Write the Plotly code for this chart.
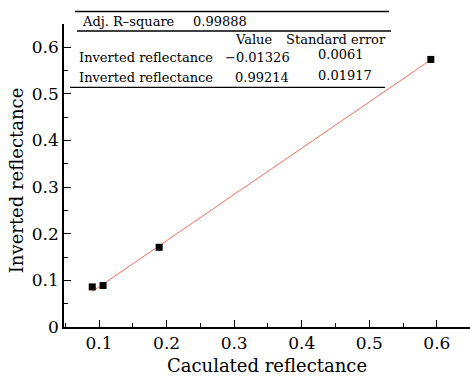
import plotly.graph_objects as go

calc = [0.090, 0.106, 0.189, 0.591]
inverted = [0.086, 0.089, 0.171, 0.574]
intercept = -0.01326
slope = 0.99214
fit_x = [min(calc), max(calc)]
fit_y = [intercept + slope * v for v in fit_x]

xticks = [0.1, 0.2, 0.3, 0.4, 0.5, 0.6]
yticks = [0, 0.1, 0.2, 0.3, 0.4, 0.5, 0.6]

FONT = "DejaVu Serif"
W, H = 470, 380
L, R, T, B = 64, 0, 23.5, 53
pw, ph = W - L - R, H - T - B

def px(x):
    return (x - L) / pw

def py(y):
    return (H - B - y) / ph

fig = go.Figure()
fig.add_trace(go.Scatter(x=fit_x, y=fit_y, mode="lines",
                         line=dict(color="#f07060", width=1), showlegend=False))
fig.add_trace(go.Scatter(x=calc, y=inverted, mode="markers",
                         marker=dict(symbol="square", size=7, color="black"),
                         showlegend=False))

shapes = []
for (x0, x1, yy) in [(75, 389, 11), (77, 391, 30.5), (70, 385, 87)]:
    shapes.append(dict(type="line", xref="paper", yref="paper",
                       x0=px(x0), x1=px(x1), y0=py(yy), y1=py(yy),
                       line=dict(color="black", width=1.3)))

ann = []
def txt(s, x, y, anchor="left", size=13, angle=0):
    ann.append(dict(text=s, x=px(x), y=py(y), xref="paper", yref="paper",
                    xanchor=anchor, yanchor="middle", showarrow=False,
                    textangle=angle,
                    font=dict(family=FONT, size=size, color="black")))

txt("Adj. R\u2013square", 80, 21)
txt("0.99888", 191, 21)
txt("Value", 233, 39)
txt("Standard error", 284, 39)
txt("Inverted reflectance", 77, 57)
txt("\u22120.01326", 223, 57)
txt("0.0061", 316, 54)
txt("Inverted reflectance", 77, 77)
txt("0.99214", 233, 77)
txt("0.01917", 316, 75)
txt("Inverted reflectance", 16, 180, anchor="center", size=18, angle=-90)

fig.update_layout(
    width=W, height=H, margin=dict(l=L, r=R, t=T, b=B),
    paper_bgcolor="white", plot_bgcolor="white",
    font=dict(family=FONT, color="black"),
    shapes=shapes, annotations=ann,
    xaxis=dict(range=[0.0482, 0.649], tickvals=xticks,
               ticktext=[str(v) for v in xticks],
               ticks="inside", ticklen=7, tickwidth=1.3, tickcolor="black",
               minor=dict(dtick=0.05, ticks="inside", ticklen=4, tickwidth=1.3, tickcolor="black"),
               showline=True, linecolor="black", linewidth=1.5,
               showgrid=False, zeroline=False,
               tickfont=dict(family=FONT, size=17),
               title=dict(text="Caculated reflectance", font=dict(family=FONT, size=18), standoff=7)),
    yaxis=dict(range=[0, 0.65], tickvals=yticks,
               ticktext=[str(v) for v in yticks],
               ticks="inside", ticklen=7, tickwidth=1.3, tickcolor="black",
               minor=dict(dtick=0.05, ticks="inside", ticklen=4, tickwidth=1.3, tickcolor="black"),
               showline=True, linecolor="black", linewidth=1.5,
               showgrid=False, zeroline=False,
               tickfont=dict(family=FONT, size=17)),
)

fig.write_html("out.html")
